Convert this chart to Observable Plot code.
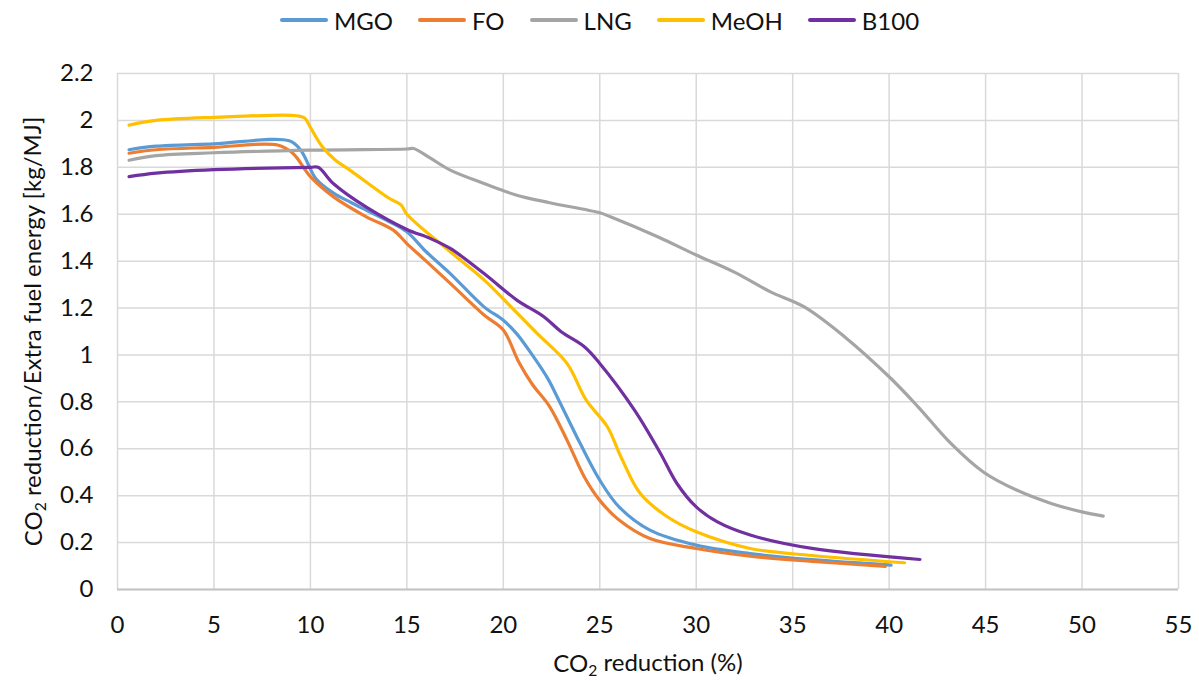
<!DOCTYPE html>
<html>
<head>
<meta charset="utf-8">
<script src="https://cdn.jsdelivr.net/npm/d3@7"></script>
<script src="https://cdn.jsdelivr.net/npm/@observablehq/plot@0.6"></script>
<style>
  html, body { margin: 0; padding: 0; background: #fff; }
  body { width: 1199px; height: 681px; overflow: hidden; font-family: Lato, "Open Sans", sans-serif; color: #111; }
  #legend { height: 40px; display: flex; justify-content: center; align-items: center; gap: 25px; font-size: 24px; box-sizing: border-box; }
  #legend .item { display: flex; align-items: center; gap: 6px; }
  #legend .sw { width: 48px; height: 4px; border-radius: 2px; }
  svg { display: block; }
</style>
</head>
<body>
<div id="legend"></div>
<div id="chart"></div>
<script>
// ---- data ----
const fuels = ["MGO", "FO", "LNG", "MeOH", "B100"];
const colors = ["#5B9BD5", "#ED7D31", "#A5A5A5", "#FFC000", "#7030A0"];

const mgoX = [0.6, 2, 5, 8.9, 9.5, 10.3, 11.2, 12.1, 12.9, 14.1, 15, 16, 17.25, 19, 20, 20.7, 21.5, 22.3, 22.8, 24, 25, 26, 27.6, 30, 32.8, 36, 40.1];
const mgoY = [1.875, 1.89, 1.9, 1.913, 1.873, 1.75, 1.69, 1.65, 1.617, 1.568, 1.525, 1.44, 1.347, 1.205, 1.148, 1.09, 1.0, 0.9, 0.82, 0.62, 0.466, 0.352, 0.253, 0.189, 0.153, 0.127, 0.104];

const foX = [0.6, 2, 5, 8.3, 9.1, 10, 11.2, 12.9, 14.3, 15, 16, 17.25, 19, 20, 20.8, 21.5, 22.4, 23.3, 24.2, 25, 26, 27.6, 30, 32.8, 36, 39.8];
const foY = [1.86, 1.875, 1.885, 1.895, 1.859, 1.76, 1.674, 1.589, 1.532, 1.475, 1.4, 1.305, 1.17, 1.106, 0.97, 0.875, 0.78, 0.637, 0.48, 0.38, 0.296, 0.217, 0.175, 0.142, 0.12, 0.099];

const lngX = [0.6, 2, 5, 10, 15, 15.35, 16.2, 17.25, 19, 20.7, 22.4, 25, 25.55, 28, 30, 31.95, 33.85, 35.6, 37.7, 40, 41.5, 43.2, 44.9, 46.6, 48.4, 50, 51.1];
const lngY = [1.83, 1.85, 1.862, 1.873, 1.878, 1.88, 1.84, 1.788, 1.731, 1.681, 1.649, 1.606, 1.589, 1.504, 1.426, 1.354, 1.269, 1.205, 1.077, 0.907, 0.779, 0.623, 0.5, 0.424, 0.367, 0.331, 0.313];

const meohX = [0.6, 2, 5, 9.3, 9.7, 10, 10.6, 11.3, 12.1, 14.1, 14.7, 15, 17.25, 19, 20.4, 21.75, 23.3, 24.3, 25.4, 26.1, 27.1, 28.5, 30, 32.8, 36, 40.8];
const meohY = [1.98, 2.0, 2.013, 2.02, 2.01, 1.97, 1.89, 1.83, 1.785, 1.667, 1.64, 1.6, 1.44, 1.32, 1.205, 1.092, 0.964, 0.807, 0.693, 0.565, 0.409, 0.31, 0.246, 0.175, 0.145, 0.114];

const b100X = [0.6, 2, 5, 10, 10.4, 11.2, 12.9, 15, 16.2, 17.25, 19, 20.7, 22.1, 23, 24.2, 25, 26.8, 28.15, 29, 30, 31.1, 32.8, 36, 41.6];
const b100Y = [1.76, 1.775, 1.79, 1.8, 1.8, 1.73, 1.63, 1.535, 1.497, 1.454, 1.347, 1.234, 1.163, 1.099, 1.035, 0.964, 0.765, 0.58, 0.452, 0.352, 0.288, 0.232, 0.175, 0.128];

const xTicks = [0, 5, 10, 15, 20, 25, 30, 35, 40, 45, 50, 55];
const yTicks = [0, 0.2, 0.4, 0.6, 0.8, 1, 1.2, 1.4, 1.6, 1.8, 2, 2.2];

const seriesX = [mgoX, foX, lngX, meohX, b100X];
const seriesY = [mgoY, foY, lngY, meohY, b100Y];

// ---- build table ----
const rows = [];
fuels.forEach((f, i) => seriesX[i].forEach((x, j) => rows.push({fuel: f, x, y: seriesY[i][j]})));

// ---- legend ----
const legend = d3.select("#legend");
fuels.forEach((f, i) => {
  const it = legend.append("div").attr("class", "item");
  it.append("div").attr("class", "sw").style("background", colors[i]);
  it.append("span").text(f);
});

// ---- chart ----
const chart = Plot.plot({
  width: 1199,
  height: 641,
  marginTop: 33,
  marginBottom: 92,
  marginLeft: 117,
  marginRight: 21,
  style: {fontFamily: "Lato, 'Open Sans', sans-serif", fontSize: "24px", color: "#111", background: "#fff"},
  x: {domain: [0, 55]},
  y: {domain: [0, 2.2]},
  color: {domain: fuels, range: colors},
  marks: [
    Plot.gridX(xTicks, {stroke: "#d9d9d9", strokeOpacity: 1, strokeWidth: 1.5}),
    Plot.gridY(yTicks, {stroke: "#d9d9d9", strokeOpacity: 1, strokeWidth: 1.5}),
    Plot.ruleY([0], {stroke: "#c4c4c4", strokeWidth: 2}),
    Plot.axisX(xTicks, {tickSize: 0, tickPadding: 26, label: "CO2 reduction (%)", labelAnchor: "center", labelArrow: "none", labelOffset: 82, tickFormat: d => String(d)}),
    Plot.axisY(yTicks, {tickSize: 0, tickPadding: 24, label: "CO2 reduction/Extra fuel energy [kg/MJ]", labelAnchor: "center", labelArrow: "none", labelOffset: 93, tickFormat: d => String(d)}),
    Plot.line(rows, {x: "x", y: "y", z: "fuel", stroke: "fuel", strokeWidth: 3.2, curve: "catmull-rom", strokeLinecap: "round", strokeLinejoin: "round"})
  ]
});
document.getElementById("chart").appendChild(chart);

// subscript the 2 in CO2 for axis labels
d3.select(chart).selectAll("text").each(function() {
  const t = d3.select(this);
  const s = t.text();
  if (s.startsWith("CO2")) {
    t.text(null);
    t.append("tspan").text("CO");
    t.append("tspan").attr("font-size", "0.65em").attr("dy", "0.3em").text("2");
    t.append("tspan").attr("dy", "-0.2em").text(s.slice(3));
  }
});
</script>
</body>
</html>
